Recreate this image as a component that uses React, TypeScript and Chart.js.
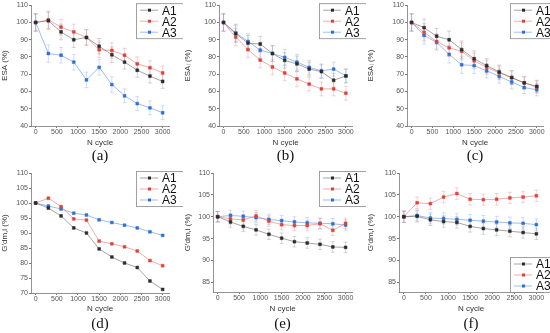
import React, { useEffect, useRef } from "react";
import { Chart, registerables } from "chart.js";
Chart.register(...registerables);

// ---------- data ----------
const N_CYCLE = [0, 300, 600, 900, 1200, 1500, 1800, 2100, 2400, 2700, 3000];
const X_TICKS = [0, 500, 1000, 1500, 2000, 2500, 3000];
const SERIES_NAMES = ["A1", "A2", "A3"];
const PANEL_LABELS = ["(a)", "(b)", "(c)", "(d)", "(e)", "(f)"];

const Y_TICKS_ESA = [40, 50, 60, 70, 80, 90, 100, 110];
const Y_TICKS_D = [70, 75, 80, 85, 90, 95, 100, 105, 110];
const Y_TICKS_EF = [85, 90, 95, 100, 105, 110];

// (a)
const A_A1 = [100, 101, 94.5, 90, 91.3, 86.2, 81.3, 77, 72.3, 68.9, 65.8];
const A_A2 = [100, 101.5, 97.3, 94.5, 91.3, 84.2, 83.8, 81, 76, 73.8, 70.8];
const A_A3 = [100, 82, 81, 77, 66.7, 74, 64, 57.5, 53, 50.5, 47.7];
const A_ERR = [5, 5, 4.5, 4.5, 4.5, 4.5, 4.5, 4, 4, 4, 4];
// (b)
const B_A1 = [100, 93.5, 88, 87.5, 82, 78, 76, 73, 71.5, 66.5, 69];
const B_A2 = [100, 91.5, 84.3, 78.2, 74.2, 70.7, 67.3, 64.3, 61.5, 61.5, 59];
const B_A3 = [100, 94, 89, 84, 82, 79.8, 77, 74, 72, 73, 69];
const B_ERR = [5, 5, 4.5, 4.5, 4.5, 4.5, 4.5, 4, 4, 4, 4];
// (c)
const C_A1 = [100, 97, 92, 90, 84.3, 79, 75, 71.3, 68, 65, 63];
const C_A2 = [100, 94.3, 89, 85.3, 83.3, 77.8, 74, 70.8, 68, 65, 62.5];
const C_A3 = [100, 92.5, 88.5, 81.5, 75.5, 75, 72, 68.8, 65.5, 62.3, 61];
const C_ERR = [5, 5, 4.5, 5, 5, 4.5, 4, 4, 4, 3.5, 3.5];
// (d)
const D_A1 = [100, 98.3, 95.7, 91.7, 90, 84.7, 82, 80, 78.5, 74, 71.2];
const D_A2 = [100, 101.6, 98.8, 94.7, 94.3, 87.3, 86.4, 85.4, 84, 80.8, 79.1];
const D_A3 = [100, 99, 98, 96.6, 96, 94.4, 93.5, 92.6, 91.7, 90.4, 89.2];
// (e)
const E_A1 = [100, 98.8, 97.8, 97, 96, 95.1, 94.3, 94, 93.7, 93.1, 93];
const E_A2 = [100, 99.5, 99.3, 100.2, 99, 98.2, 98, 98, 98.4, 96.9, 98.5];
const E_A3 = [100, 100.3, 100.1, 99.8, 99.4, 99.1, 98.8, 98.6, 98.5, 98.4, 98.1];
const E_ERR = [1.2, 1.2, 1.2, 1.2, 1.2, 1.2, 1.2, 1.2, 1.2, 1.2, 1.2];
// (f)
const F_A1 = [100, 100.1, 99.3, 98.9, 98.7, 97.8, 97.3, 97, 96.7, 96.4, 96.1];
const F_A2 = [100, 103.2, 103, 104.5, 105.3, 104, 103.9, 104, 104.3, 104.5, 104.8];
const F_A3 = [100, 100.3, 99.7, 99.6, 99.4, 99.2, 99, 98.8, 98.6, 98.5, 98.2];
const F_ERR = [1.3, 1.3, 1.3, 1.3, 1.3, 1.3, 1.3, 1.3, 1.3, 1.3, 1.3];

// ---------- styles ----------
const MARKER = ["#2b2b2b", "#e0403a", "#2d6fd8"];
const LINE = ["rgba(90,90,90,0.55)", "rgba(232,90,90,0.5)", "rgba(80,135,225,0.55)"];
const ERRC = ["rgba(120,120,120,0.3)", "rgba(232,110,110,0.3)", "rgba(100,150,230,0.3)"];
const SANS = "'Liberation Sans', Arial, sans-serif";

type Panel = {
  left: number; top: number; w: number; h: number;
  area: { l: number; r: number; t: number; b: number };
  series: number[][];
  err: number[] | null;
  yMin: number; yMax: number; yTicks: number[];
  yTitle: string;
  legend: "top" | "bottom";
  label: string;
};

const PANELS: Panel[] = [
  { left: 0, top: 0, w: 183, h: 148, area: { l: 31, r: 169, t: 5, b: 126 }, series: [A_A1, A_A2, A_A3], err: A_ERR, yMin: 40, yMax: 110, yTicks: Y_TICKS_ESA, yTitle: "ESA (%)", legend: "top", label: PANEL_LABELS[0] },
  { left: 183, top: 0, w: 183, h: 148, area: { l: 219, r: 352, t: 5, b: 126 }, series: [B_A1, B_A2, B_A3], err: B_ERR, yMin: 40, yMax: 110, yTicks: Y_TICKS_ESA, yTitle: "ESAᵢ (%)", legend: "top", label: PANEL_LABELS[1] },
  { left: 366, top: 0, w: 184, h: 148, area: { l: 407, r: 543, t: 5, b: 126 }, series: [C_A1, C_A2, C_A3], err: C_ERR, yMin: 40, yMax: 110, yTicks: Y_TICKS_ESA, yTitle: "ESAᵢ (%)", legend: "top", label: PANEL_LABELS[2] },
  { left: 0, top: 166, w: 183, h: 148, area: { l: 31, r: 169, t: 173, b: 293 }, series: [D_A1, D_A2, D_A3], err: null, yMin: 70, yMax: 110, yTicks: Y_TICKS_D, yTitle: "G′dm,i (%)", legend: "top", label: PANEL_LABELS[3] },
  { left: 183, top: 166, w: 183, h: 148, area: { l: 213, r: 352, t: 173, b: 292 }, series: [E_A1, E_A2, E_A3], err: E_ERR, yMin: 82.8, yMax: 110, yTicks: Y_TICKS_EF, yTitle: "G′dm,i (%)", legend: "top", label: PANEL_LABELS[4] },
  { left: 366, top: 166, w: 184, h: 148, area: { l: 399, r: 543, t: 173, b: 292 }, series: [F_A1, F_A2, F_A3], err: F_ERR, yMin: 82.8, yMax: 110, yTicks: Y_TICKS_EF, yTitle: "G′dm,i (%)", legend: "bottom", label: PANEL_LABELS[5] },
];

const errorBarPlugin = {
  id: "errorBars",
  beforeDatasetsDraw(chart: any, _a: any, opts: any) {
    const err: number[] | null = opts.err;
    if (!err) return;
    const { ctx } = chart;
    const xs = chart.scales.x;
    const ys = chart.scales.y;
    ctx.save();
    chart.data.datasets.forEach((ds: any, di: number) => {
      ctx.strokeStyle = ERRC[di];
      ctx.lineWidth = 1;
      ds.data.forEach((p: any, i: number) => {
        const x = xs.getPixelForValue(p.x);
        const y1 = ys.getPixelForValue(p.y + err[i]);
        const y2 = ys.getPixelForValue(p.y - err[i]);
        ctx.beginPath();
        ctx.moveTo(x, y1); ctx.lineTo(x, y2);
        ctx.moveTo(x - 2, y1); ctx.lineTo(x + 2, y1);
        ctx.moveTo(x - 2, y2); ctx.lineTo(x + 2, y2);
        ctx.stroke();
      });
    });
    ctx.restore();
  },
};

const boxLegendPlugin = {
  id: "boxLegend",
  afterDraw(chart: any, _a: any, opts: any) {
    const { ctx, chartArea } = chart;
    const w = 47, h = 35;
    const x0 = chartArea.right - 33;
    const y0 = opts.pos === "bottom" ? chartArea.bottom - h : chartArea.top - 2;
    ctx.save();
    ctx.fillStyle = "#ffffff";
    ctx.fillRect(x0, y0, w, h);
    ctx.strokeStyle = "#8a8a8a";
    ctx.lineWidth = 0.8;
    ctx.strokeRect(x0 + 0.5, y0 + 0.5, w, h);
    chart.data.datasets.forEach((ds: any, i: number) => {
      const cy = y0 + 7 + i * 11;
      ctx.strokeStyle = LINE[i];
      ctx.lineWidth = 1;
      ctx.beginPath();
      ctx.moveTo(x0 + 4, cy); ctx.lineTo(x0 + 22, cy);
      ctx.stroke();
      ctx.fillStyle = MARKER[i];
      ctx.fillRect(x0 + 12, cy - 1.5, 3, 3);
      ctx.fillStyle = "#111";
      ctx.font = "12px " + SANS;
      ctx.textBaseline = "middle";
      ctx.fillText(ds.label, x0 + 26, cy + 1);
    });
    ctx.restore();
  },
};

function PanelChart({ p }: { p: Panel }) {
  const ref = useRef<HTMLCanvasElement>(null);
  useEffect(() => {
    if (!ref.current) return;
    const yw = p.area.l - p.left;
    const padTop = p.area.t - p.top;
    const padRight = p.left + p.w - p.area.r;
    const xh = p.top + p.h - p.area.b;
    const chart = new Chart(ref.current, {
      type: "line",
      data: {
        datasets: p.series.map((s, i) => ({
          label: SERIES_NAMES[i],
          data: N_CYCLE.map((x, j) => ({ x, y: s[j] })),
          borderColor: LINE[i],
          borderWidth: 1,
          pointStyle: "rect",
          pointRadius: 2,
          pointBackgroundColor: MARKER[i],
          pointBorderColor: MARKER[i],
          pointBorderWidth: 0.5,
          tension: 0,
        })),
      },
      options: {
        animation: false,
        responsive: false,
        layout: { padding: { top: padTop, right: padRight, left: 0, bottom: 0 } },
        plugins: {
          legend: { display: false },
          tooltip: { enabled: false },
          errorBars: { err: p.err },
          boxLegend: { pos: p.legend },
        } as any,
        scales: {
          x: {
            type: "linear",
            min: -110,
            max: 3150,
            afterBuildTicks: (s: any) => { s.ticks = X_TICKS.map((v) => ({ value: v })); },
            afterFit: (s: any) => { s.height = xh; },
            grid: { drawOnChartArea: false, drawTicks: true, tickLength: 2, color: "#777" },
            border: { display: true, color: "#777", width: 0.8 },
            ticks: { font: { size: 7, family: SANS }, color: "#555", padding: 0, maxRotation: 0, autoSkip: false, callback: (v: any) => String(v) },
            title: { display: true, text: "N cycle", font: { size: 8, family: SANS }, color: "#333", padding: { top: 0, bottom: 0 } },
          },
          y: {
            type: "linear",
            min: p.yMin,
            max: p.yMax,
            afterBuildTicks: (s: any) => { s.ticks = p.yTicks.map((v) => ({ value: v })); },
            afterFit: (s: any) => { s.width = yw; },
            grid: { drawOnChartArea: false, drawTicks: true, tickLength: 2, color: "#777" },
            border: { display: true, color: "#777", width: 0.8 },
            ticks: { font: { size: 7, family: SANS }, color: "#555", padding: 1, autoSkip: false, callback: (v: any) => String(v) },
            title: { display: true, text: p.yTitle, font: { size: 8, family: SANS }, color: "#333", padding: { top: 0, bottom: 1 } },
          },
        },
      },
      plugins: [errorBarPlugin, boxLegendPlugin],
    } as any);
    return () => chart.destroy();
  }, [p]);
  return (
    <canvas
      ref={ref}
      width={p.w}
      height={p.h}
      style={{ position: "absolute", left: p.left, top: p.top, width: p.w, height: p.h }}
    />
  );
}

export default function App() {
  return (
    <div style={{ position: "absolute", left: 0, top: 0, width: 550, height: 333, background: "#fff", overflow: "hidden" }}>
      {PANELS.map((p, i) => (
        <React.Fragment key={i}>
          <PanelChart p={p} />
          <div
            style={{
              position: "absolute",
              left: (p.area.l + p.area.r) / 2 - 20,
              width: 40,
              top: p.top === 0 ? 146 : 314,
              textAlign: "center",
              fontFamily: "'Liberation Serif', 'DejaVu Serif', serif",
              fontSize: 15,
              lineHeight: "18px",
              color: "#111",
            }}
          >
            {p.label}
          </div>
        </React.Fragment>
      ))}
    </div>
  );
}
